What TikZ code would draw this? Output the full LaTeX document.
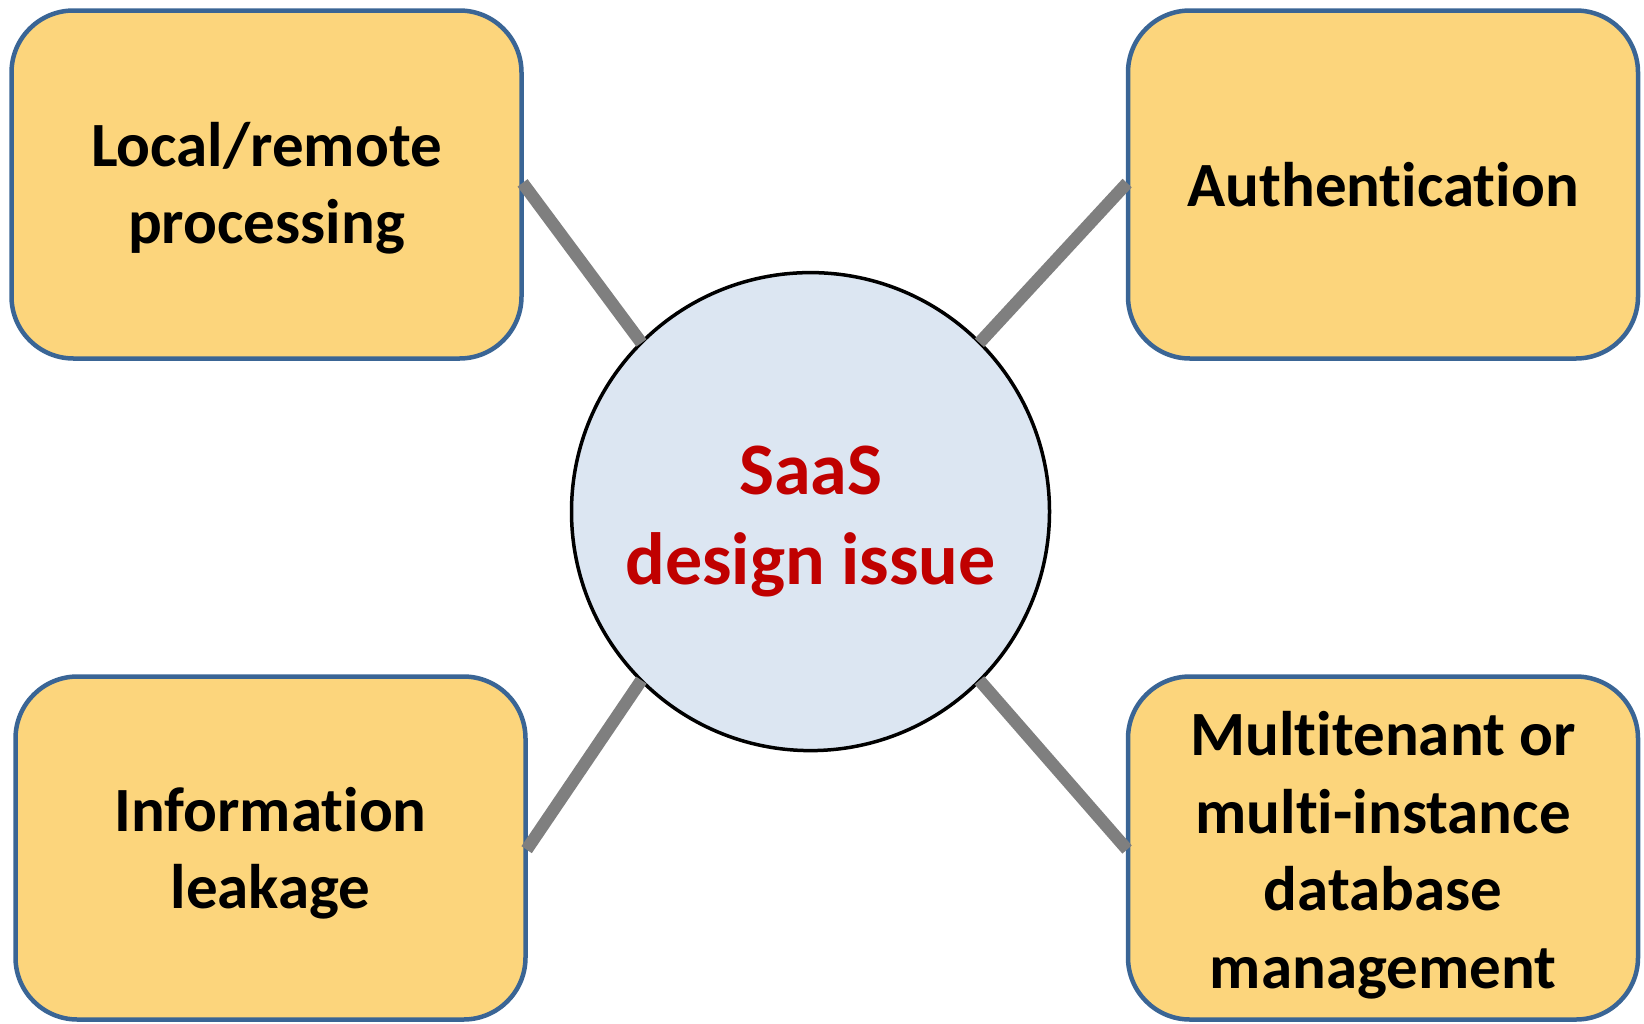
\documentclass[tikz,border=0pt]{standalone}
\usepackage{fontspec}
\setmainfont{Carlito}[RawFeature={-liga;-clig;-calt;-dlig}]
\definecolor{boxfill}{HTML}{FCD57C}
\definecolor{boxline}{HTML}{3A6595}
\definecolor{circfill}{HTML}{DCE6F2}
\definecolor{conncol}{HTML}{7F7F7F}
\definecolor{titlered}{HTML}{C00000}
\tikzset{
  topicbox/.style={rectangle, rounded corners=62pt, draw=boxline, line width=4.5pt,
    fill=boxfill, minimum width=510pt, inner sep=0pt},
  boxtext/.style={align=center, inner sep=0pt,
    font=\fontsize{63}{77.5}\selectfont\bfseries, text=black},
  hubcircle/.style={circle, draw=black, line width=3.5pt, fill=circfill,
    minimum size=478pt, inner sep=0pt},
  hubtext/.style={align=center, inner sep=0pt,
    font=\fontsize{74}{90}\selectfont\bfseries, text=titlered},
  conn/.style={draw=conncol, line width=12.5pt, shorten <=-2pt, shorten >=-2pt}
}
\begin{document}
\begin{tikzpicture}[x=1pt,y=-1pt]
\useasboundingbox (0,0) rectangle (1644,1023);
\node[topicbox, minimum height=348pt] (tl) at (266.5,184.5) {};
\node[topicbox, minimum height=348pt] (tr) at (1383,184.5) {};
\node[topicbox, minimum height=343pt] (bl) at (270.5,848) {};
\node[topicbox, minimum height=343pt] (br) at (1383,848) {};
\node[boxtext] (tltext) at (266.5,188) {Local/remote\\processing};
\node[boxtext] (trtext) at (1383,184.5) {Authentication};
\node[boxtext] (bltext) at (270.5,853) {Information\\leakage};
\node[boxtext] (brtext) at (1383,855) {Multitenant or\\multi-instance\\database\\management};
\node[hubcircle] (c) at (810.5,511.6) {};
\node[hubtext] (ct) at (810.5,521) {SaaS\\design issue};
\draw[conn] (tl.east) -- (c.135);
\draw[conn] (tr.west) -- (c.45);
\draw[conn] (bl.east) -- (c.225);
\draw[conn] (br.west) -- (c.315);
\end{tikzpicture}
\end{document}
